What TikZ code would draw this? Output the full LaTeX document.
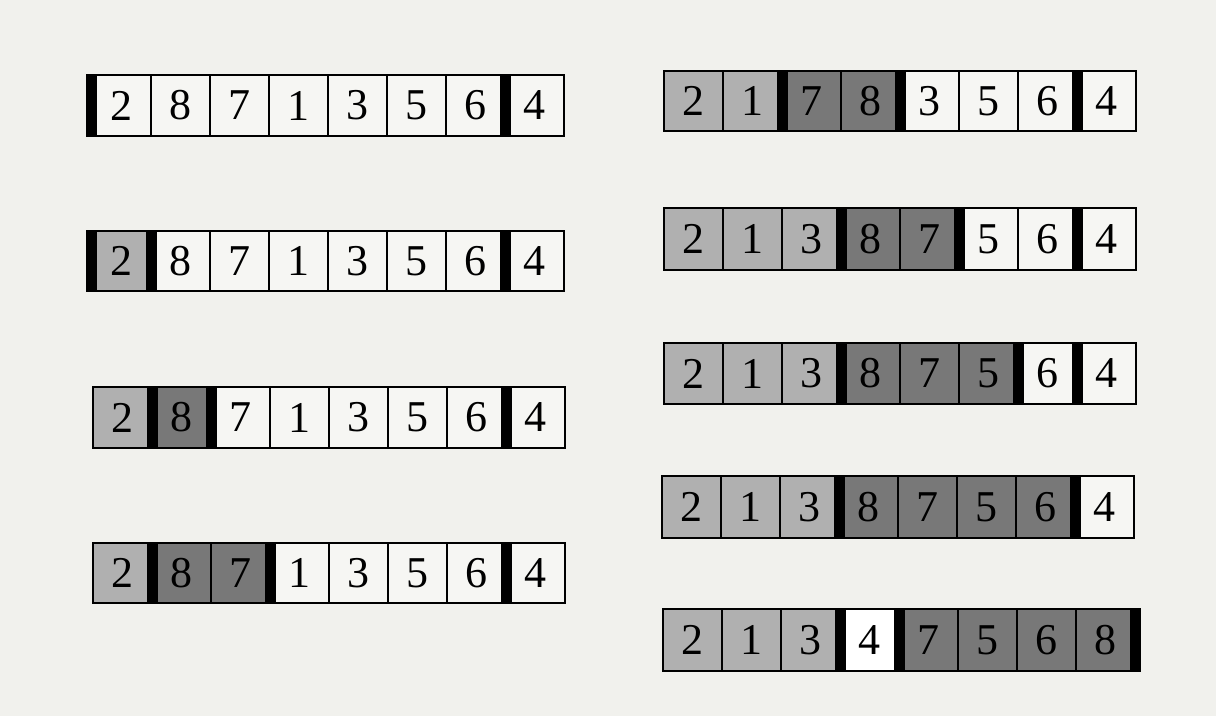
\documentclass[tikz,border=0pt]{standalone}
\usepackage{fontspec}
\setmainfont{Liberation Serif}
\definecolor{bg}{RGB}{241,241,237}
\definecolor{cw}{RGB}{246,246,243}
\definecolor{cl}{RGB}{176,176,176}
\definecolor{cd}{RGB}{120,120,120}
\tikzset{
  cell/.style={draw=black, line width=1.3pt, minimum width=59pt, inner sep=0pt,
    font=\fontsize{44}{44}\selectfont, anchor=center},
  W/.style={fill=cw}, L/.style={fill=cl}, D/.style={fill=cd}, P/.style={fill=white},
  barfill/.style={fill=black}
}
\newcommand\cellrow[5]{% name, x0, ytop, height, list value/style
  \foreach \v/\s [count=\i] in {#5}{
    \node[cell,\s,minimum height=#4pt] (#1-\i) at ({#2+59*(\i-0.5)},{#3+#4/2}) {\v};
  }}
\newcommand\rowbars[2]{% name, boundary indices (0 = left edge)
  \foreach \b in {#2}{
    \ifnum\b=0
      \fill[barfill] ([xshift=-5.5pt]#1-1.north west) rectangle ([xshift=5.5pt]#1-1.south west);
    \else
      \fill[barfill] ([xshift=-5.5pt]#1-\b.north east) rectangle ([xshift=5.5pt]#1-\b.south east);
    \fi
  }}
\begin{document}
\begin{tikzpicture}[x=1pt,y=-1pt]
  \fill[bg] (0,0) rectangle (1216,716);
  \useasboundingbox (0,0) rectangle (1216,716);
  % left column
  \cellrow{a}{92}{75}{61}{2/W,8/W,7/W,1/W,3/W,5/W,6/W,4/W}
  \rowbars{a}{0,7}
  \cellrow{b}{92}{231}{60}{2/L,8/W,7/W,1/W,3/W,5/W,6/W,4/W}
  \rowbars{b}{0,1,7}
  \cellrow{c}{93}{387}{61}{2/L,8/D,7/W,1/W,3/W,5/W,6/W,4/W}
  \rowbars{c}{1,2,7}
  \cellrow{d}{93}{543}{60}{2/L,8/D,7/D,1/W,3/W,5/W,6/W,4/W}
  \rowbars{d}{1,3,7}
  % right column
  \cellrow{e}{664}{71}{60}{2/L,1/L,7/D,8/D,3/W,5/W,6/W,4/W}
  \rowbars{e}{2,4,7}
  \cellrow{f}{664}{208}{62}{2/L,1/L,3/L,8/D,7/D,5/W,6/W,4/W}
  \rowbars{f}{3,5,7}
  \cellrow{g}{664}{343}{61}{2/L,1/L,3/L,8/D,7/D,5/D,6/W,4/W}
  \rowbars{g}{3,6,7}
  \cellrow{h}{662}{476}{62}{2/L,1/L,3/L,8/D,7/D,5/D,6/D,4/W}
  \rowbars{h}{3,7}
  \cellrow{k}{663}{609}{62}{2/L,1/L,3/L,4/P,7/D,5/D,6/D,8/D}
  \rowbars{k}{3,4,8}
\end{tikzpicture}
\end{document}
